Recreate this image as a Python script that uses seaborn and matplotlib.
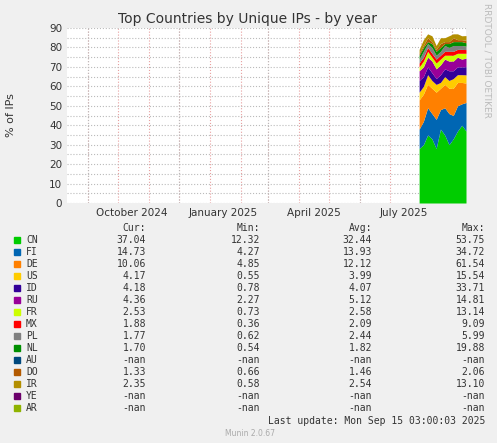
import numpy as np
import pandas as pd
import seaborn as sns
import matplotlib.pyplot as plt

sns.set_style("white")
plt.rcParams['font.family'] = ['DejaVu Sans']

dates = pd.date_range("2025-07-30", "2025-09-15", periods=12)
countries = ["CN", "FI", "DE", "US", "ID", "RU", "FR", "MX", "PL", "NL",
             "AU", "DO", "IR", "YE", "AR"]
colors = ["#00CC00", "#0066B3", "#FF8000", "#FFCC00", "#330099", "#990099",
          "#CCFF00", "#FF0000", "#808080", "#008F00", "#00487D", "#B35A00",
          "#B38F00", "#6B006B", "#8FB300"]
cn = [28, 30, 35, 33, 28, 38, 35, 30, 33, 37, 40, 37]
fi = [10, 12, 14, 13, 15, 10, 14, 16, 12, 13, 11, 14.7]
de = [15, 14, 12, 13, 14, 11, 12, 13, 14, 12, 11, 10]
us = [4, 4, 5, 4, 4, 3, 4, 4, 5, 4, 4, 4.2]
id_ = [6, 5, 4, 4, 3, 4, 4, 5, 4, 4, 4, 4.2]
ru = [5, 5, 5, 6, 5, 5, 5, 5, 5, 5, 4, 4.4]
fr = [2, 3, 3, 2, 3, 3, 2, 3, 3, 2, 3, 2.5]
mx = [2, 2, 2, 2, 2, 2, 2, 2, 2, 2, 2, 1.9]
pl = [2, 3, 2, 3, 2, 2, 3, 2, 3, 2, 2, 1.8]
nl = [2, 2, 1, 2, 2, 2, 1, 2, 2, 2, 2, 1.7]
au = [0] * 12
do = [1, 1, 2, 1, 1, 2, 1, 1, 2, 1, 1, 1.3]
ir = [2, 3, 2, 3, 2, 3, 2, 3, 2, 3, 2, 2.4]
ye = [0] * 12
ar = [0] * 12
series = [cn, fi, de, us, id_, ru, fr, mx, pl, nl, au, do, ir, ye, ar]

cur = ["37.04", "14.73", "10.06", "4.17", "4.18", "4.36", "2.53", "1.88", "1.77", "1.70", "-nan", "1.33", "2.35", "-nan", "-nan"]
mins = ["12.32", "4.27", "4.85", "0.55", "0.78", "2.27", "0.73", "0.36", "0.62", "0.54", "-nan", "0.66", "0.58", "-nan", "-nan"]
avgs = ["32.44", "13.93", "12.12", "3.99", "4.07", "5.12", "2.58", "2.09", "2.44", "1.82", "-nan", "1.46", "2.54", "-nan", "-nan"]
maxs = ["53.75", "34.72", "61.54", "15.54", "33.71", "14.81", "13.14", "9.09", "5.99", "19.88", "-nan", "2.06", "13.10", "-nan", "-nan"]

W, H = 497, 443
fig = plt.figure(figsize=(W / 100, H / 100), dpi=100, facecolor="#F0F0F0")
ax = fig.add_axes([67 / W, 1 - 203 / H, 399 / W, 175 / H])
ax.stackplot(dates, *series, colors=colors, linewidth=0)
ax.set_xlim(pd.Timestamp("2024-08-11"), pd.Timestamp("2025-09-15"))
ax.set_ylim(0, 90)
ax.set_yticks(range(0, 91, 10))
ax.tick_params(labelsize=7.5, colors="#333333", length=0)
ticks = pd.to_datetime(["2024-10-15", "2025-01-15", "2025-04-15", "2025-07-15"])
ax.set_xticks(ticks)
ax.set_xticklabels(["October 2024", "January 2025", "April 2025", "July 2025"])
ax.set_yticks(np.arange(0, 90, 5), minor=True)
ax.grid(True, which="both", axis="y", color="#BBBBBB", linestyle=":", linewidth=0.8)
for m in pd.date_range("2024-09-01", "2025-09-01", freq="MS"):
    ax.axvline(m, color="#E8A0A0", linestyle=":", linewidth=0.8, zorder=0)
for m in pd.date_range("2024-09-01", "2025-09-01", freq="MS")[::3]:
    ax.axvline(m, color="#BBBBBB", linestyle=":", linewidth=0.8, zorder=0)
for s in ax.spines.values():
    s.set_visible(False)
ax.set_facecolor("white")

fig.text(248 / W, 1 - 19 / H, "Top Countries by Unique IPs - by year", ha="center", va="center", fontsize=10, color="#333333")
fig.text(11 / W, 1 - 115 / H, "% of IPs", rotation=90, ha="center", va="center", fontsize=8, color="#333333")
fig.text(487 / W, 1 - 60 / H, "RRDTOOL / TOBI OETIKER", rotation=270, ha="center", va="center", fontsize=6.5, color="#BBBBBB")

mono = dict(family="DejaVu Sans Mono", fontsize=7, color="#333333", va="center")
y0 = 228
for x, t in [(146, "Cur:"), (260, "Min:"), (372, "Avg:"), (485, "Max:")]:
    fig.text(x / W, 1 - y0 / H, t, ha="right", **mono)
for i, c in enumerate(countries):
    y = 1 - (y0 + 12 * (i + 1)) / H
    fig.patches.append(plt.Rectangle((14 / W, y - 3 / H), 6 / W, 6 / H, transform=fig.transFigure, color=colors[i], figure=fig))
    fig.text(26 / W, y, c, ha="left", **mono)
    for x, v in [(146, cur[i]), (260, mins[i]), (372, avgs[i]), (485, maxs[i])]:
        fig.text(x / W, y, v, ha="right", **mono)
fig.text(485 / W, 1 - 421 / H, "Last update: Mon Sep 15 03:00:03 2025", ha="right", **mono)
fig.text(250 / W, 1 - 433 / H, "Munin 2.0.67", ha="center", va="center", fontsize=5.5, color="#AAAAAA")

fig.savefig("out.png", dpi=100, facecolor=fig.get_facecolor())
